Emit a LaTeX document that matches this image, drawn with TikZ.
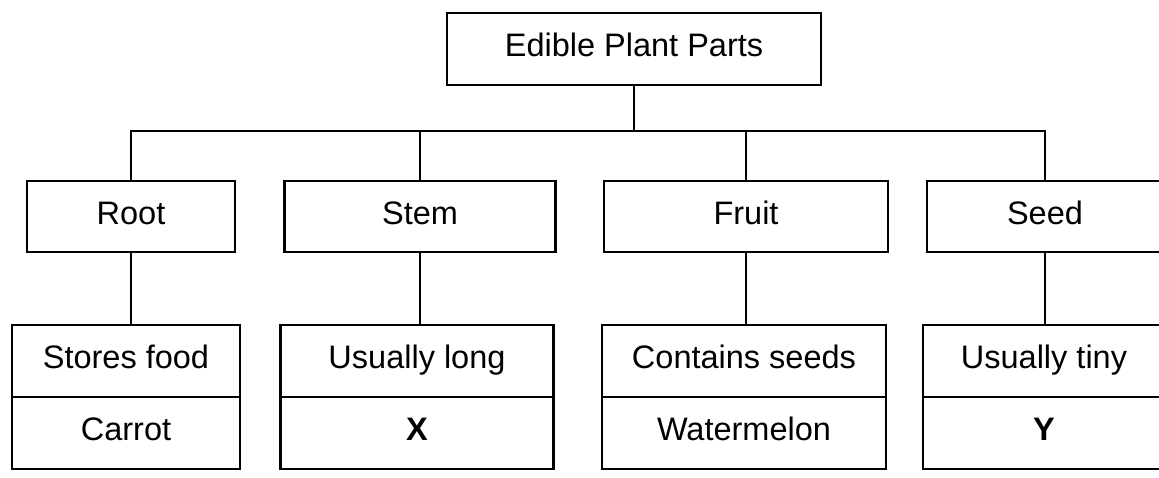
\documentclass[tikz,border=0pt]{standalone}
\usepackage{fontspec}
\setmainfont{Liberation Sans}
\begin{document}
\begin{tikzpicture}[x=1pt,y=1pt,
  cell/.style={draw, line width=2.2pt, minimum height=72pt, inner sep=0pt,
    text height=23.3pt, text depth=8pt, font=\fontsize{32.5}{39}\selectfont},
  link/.style={line width=2.2pt}]
\useasboundingbox (0,0) rectangle (1159,477);
% top
\node[cell, minimum width=374pt] (top) at (634,428) {Edible Plant Parts};
\coordinate (bus) at (0,346);
% level 2
\node[cell, minimum width=208pt, minimum height=71pt] (root)  at (131,260.5)  {Root};
\node[cell, minimum width=271pt, minimum height=71pt] (stem)  at (420,260.5)  {Stem};
\node[cell, minimum width=284pt, minimum height=71pt] (fruit) at (746,260.5)  {Fruit};
\node[cell, minimum width=236pt, minimum height=71pt] (seed)  at (1045,260.5) {Seed};
% level 3
\node[cell, minimum width=228pt] (stores)  at (126,116)   {Stores food};
\node[cell, minimum width=228pt] (carrot)  at (126,44)    {Carrot};
\node[cell, minimum width=273pt] (long)    at (417,116)   {Usually long};
\node[cell, minimum width=273pt] (xcell)   at (417,44)    {\bfseries X};
\node[cell, minimum width=284pt] (contain) at (744,116)   {Contains seeds};
\node[cell, minimum width=284pt] (melon)   at (744,44)    {Watermelon};
\node[cell, minimum width=242pt] (tiny)    at (1044,116)  {Usually tiny};
\node[cell, minimum width=242pt] (ycell)   at (1044,44)   {\bfseries Y};
% connectors
\draw[link] (top.south) -- (top.south |- bus);
\draw[link] (root.north) -- (root.north |- bus) -- (seed.north |- bus) -- (seed.north);
\draw[link] (stem.north) -- (stem.north |- bus);
\draw[link] (fruit.north) -- (fruit.north |- bus);
\draw[link] (root.south) -- (root.south |- stores.north);
\draw[link] (stem.south) -- (stem.south |- long.north);
\draw[link] (fruit.south) -- (fruit.south |- contain.north);
\draw[link] (seed.south) -- (seed.south |- tiny.north);
\end{tikzpicture}
\end{document}
